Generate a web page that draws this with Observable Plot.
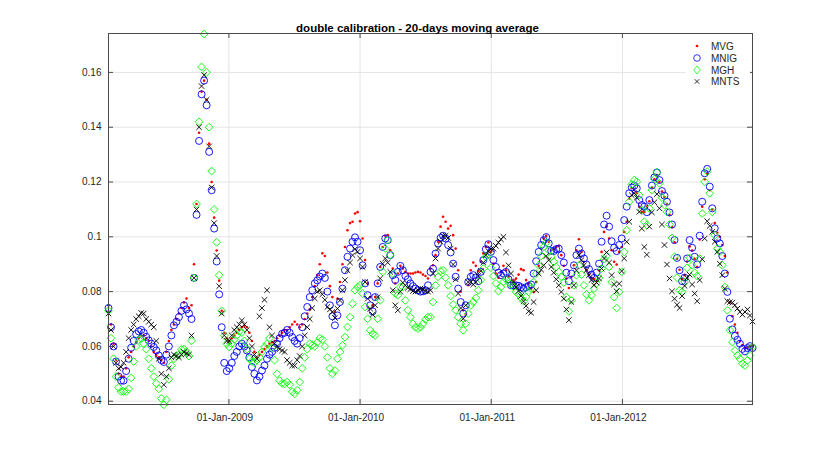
<!DOCTYPE html>
<html><head><meta charset="utf-8">
<script src="https://cdn.jsdelivr.net/npm/d3@7"></script>
<script src="https://cdn.jsdelivr.net/npm/@observablehq/plot@0.6"></script>
<style>
body{margin:0;background:#fff;font-family:"Liberation Sans",Arial,sans-serif;}
#wrap{position:relative;width:830px;height:454px;overflow:hidden;}
#legend{position:absolute;left:686px;top:38px;}
</style></head>
<body><div id="wrap"><div id="chart"></div><svg id="legend" width="64" height="52"></svg></div>
<script>
// one reading per week, starting 01-Feb-2008
const startDate = "2008-02-01";
const stepDays = 7;

const MVG = [
0.075,0.068,0.061,0.055,0.050,0.049,0.049,0.052,0.056,0.058,
0.060,0.0615,0.063,0.064,0.064,0.063,0.062,0.060,0.058,0.057,
0.056,0.055,0.054,0.058,0.062,0.066,0.068,0.070,0.072,0.074,
0.076,0.0775,0.074,0.075,0.090,0.112,0.138,0.153,0.157,0.150,
0.134,0.120,0.107,0.095,0.084,0.073,0.065,0.063,0.062,0.063,
0.064,0.065,0.066,0.067,0.0675,0.067,0.065,0.062,0.058,0.056,
0.057,0.058,0.059,0.060,0.061,0.0615,0.062,0.063,0.064,0.065,
0.066,0.066,0.067,0.068,0.069,0.068,0.067,0.068,0.070,0.072,
0.0735,0.078,0.082,0.086,0.090,0.094,0.093,0.087,0.082,0.078,
0.0726,0.0774,0.0835,0.090,0.0963,0.1024,0.105,0.1055,0.1085,0.109,
0.1057,0.0994,0.0915,0.083,0.078,0.075,0.078,0.083,0.089,0.0963,
0.1004,0.1006,0.0951,0.0884,0.083,0.0866,0.0894,0.0884,0.0872,0.0866,
0.0866,0.0866,0.087,0.0872,0.087,0.0862,0.0857,0.0848,0.0884,0.0896,
0.0933,0.0982,0.1037,0.1073,0.1055,0.103,0.104,0.1006,0.0957,0.0878,
0.080,0.0732,0.0716,0.0823,0.0878,0.0906,0.0894,0.0875,0.0909,0.0939,
0.0963,0.0979,0.0945,0.0902,0.0866,0.0851,0.0872,0.0894,0.0878,0.0854,
0.0835,0.0842,0.0848,0.0862,0.0882,0.0878,0.0842,0.083,0.0811,0.0799,
0.0835,0.0894,0.0957,0.0994,0.1004,0.0982,0.0951,0.0955,0.0963,0.0967,
0.0933,0.0894,0.0848,0.0813,0.0854,0.0896,0.0951,0.0991,0.0945,0.0909,
0.0878,0.0862,0.085,0.0845,0.0838,0.0878,0.0945,0.1018,0.1037,0.0994,
0.0951,0.0909,0.0899,0.0945,0.0963,0.1018,0.1055,0.114,0.1177,0.1171,
0.1159,0.111,0.1091,0.1091,0.111,0.113,0.118,0.121,0.1225,0.120,
0.1165,0.1145,0.112,0.108,0.1035,0.098,0.092,0.088,0.0845,0.086,
0.091,0.0965,0.095,0.092,0.089,0.099,0.111,0.121,0.123,0.117,
0.110,0.105,0.1015,0.100,0.097,0.093,0.087,0.076,0.071,0.068,
0.065,0.062,0.0605,0.0595,0.0595,0.060,0.060];

const MNIG = [
0.074,0.067,0.060,0.0545,0.049,0.0475,0.0475,0.051,0.0555,0.0595,
0.062,0.0645,0.0655,0.066,0.065,0.0635,0.0622,0.061,0.0598,0.0585,
0.0567,0.055,0.0543,0.057,0.060,0.064,0.0677,0.069,0.0707,0.073,
0.075,0.0735,0.072,0.070,0.085,0.108,0.135,0.152,0.157,0.148,
0.131,0.117,0.103,0.091,0.079,0.067,0.054,0.051,0.052,0.054,
0.0565,0.058,0.060,0.061,0.060,0.0585,0.056,0.0525,0.050,0.0476,
0.049,0.0512,0.053,0.0555,0.057,0.058,0.0595,0.061,0.063,0.0646,
0.065,0.066,0.065,0.0634,0.062,0.061,0.063,0.067,0.071,0.0744,
0.078,0.0805,0.083,0.0841,0.0855,0.0866,0.085,0.080,0.075,0.071,
0.0677,0.0713,0.0762,0.0811,0.0878,0.0927,0.0957,0.0982,0.0998,0.0982,
0.0951,0.0896,0.083,0.0787,0.075,0.0728,0.078,0.083,0.089,0.0963,
0.0994,0.0988,0.0933,0.086,0.0842,0.0872,0.0894,0.0878,0.0857,0.0845,
0.083,0.082,0.0811,0.0805,0.080,0.0801,0.0805,0.0823,0.0872,0.0884,
0.0939,0.0976,0.0996,0.1004,0.0994,0.097,0.0943,0.0902,0.0854,0.0811,
0.0762,0.072,0.075,0.0835,0.0854,0.086,0.0851,0.0838,0.0872,0.0915,
0.0955,0.0973,0.0945,0.0915,0.089,0.0869,0.086,0.0866,0.0872,0.0845,
0.0823,0.0823,0.0823,0.0821,0.0816,0.0811,0.0816,0.0821,0.0826,0.0866,
0.0911,0.0945,0.097,0.0988,0.0999,0.0976,0.0949,0.0948,0.0955,0.0957,
0.0933,0.0906,0.0869,0.0838,0.0866,0.0896,0.0933,0.0957,0.0939,0.0921,
0.0899,0.0882,0.0862,0.085,0.0869,0.0902,0.0982,0.1045,0.1077,0.1037,
0.0984,0.096,0.0948,0.097,0.0994,0.1061,0.111,0.1159,0.118,0.1187,
0.1177,0.1134,0.1116,0.111,0.109,0.1134,0.1187,0.1217,0.1235,0.1207,
0.1167,0.115,0.1128,0.1089,0.1045,0.0988,0.0923,0.0878,0.0838,0.0851,
0.0921,0.0988,0.096,0.0927,0.0899,0.1004,0.1128,0.1232,0.1248,0.1183,
0.1104,0.1031,0.0994,0.0976,0.093,0.0866,0.0799,0.0701,0.0662,0.0638,
0.0624,0.061,0.0591,0.0582,0.0594,0.0601,0.0594];

const MGH = [
0.073,0.063,0.0555,0.049,0.045,0.0435,0.0435,0.0435,0.0445,0.0485,
0.0545,0.060,0.0625,0.0628,0.061,0.059,0.0555,0.052,0.049,0.0465,
0.0445,0.041,0.0387,0.0405,0.048,0.053,0.0555,0.0565,0.057,0.059,
0.059,0.058,0.0565,0.062,0.085,0.112,0.142,0.162,0.174,0.160,
0.140,0.124,0.110,0.098,0.086,0.073,0.064,0.061,0.0598,0.061,
0.0625,0.064,0.0655,0.065,0.062,0.059,0.0555,0.0545,0.054,0.055,
0.056,0.058,0.0598,0.061,0.063,0.0595,0.055,0.050,0.0475,0.0465,
0.0463,0.047,0.046,0.0435,0.0427,0.044,0.047,0.052,0.056,0.059,
0.061,0.0605,0.060,0.0615,0.063,0.0625,0.060,0.056,0.052,0.050,
0.0512,0.0555,0.058,0.0604,0.0634,0.0671,0.0707,0.0756,0.0805,0.0817,
0.0823,0.0793,0.0744,0.0701,0.0659,0.0646,0.064,0.0701,0.0768,0.0872,
0.0957,0.0988,0.0933,0.0866,0.0793,0.0787,0.0817,0.0817,0.0768,0.0732,
0.0707,0.0683,0.067,0.0665,0.067,0.0683,0.0698,0.0707,0.0707,0.0762,
0.0823,0.0854,0.0875,0.0878,0.0851,0.0823,0.0784,0.0753,0.0732,0.0707,
0.0683,0.0659,0.0683,0.072,0.075,0.0762,0.0777,0.0805,0.0842,0.0884,
0.0927,0.0933,0.0887,0.0857,0.083,0.0802,0.0817,0.0835,0.0845,0.0835,
0.0827,0.0817,0.0799,0.079,0.0777,0.0765,0.078,0.0799,0.0811,0.0835,
0.0866,0.0896,0.093,0.0963,0.0979,0.0951,0.0927,0.0909,0.089,0.0872,
0.0854,0.0833,0.078,0.0728,0.0768,0.0823,0.086,0.0896,0.0862,0.0823,
0.079,0.0768,0.0787,0.0811,0.083,0.085,0.0884,0.0918,0.093,0.089,
0.0835,0.078,0.074,0.0799,0.0872,0.0945,0.1024,0.1128,0.1191,0.1207,
0.1201,0.1152,0.1098,0.1055,0.1043,0.1104,0.1171,0.1211,0.1235,0.1195,
0.1143,0.1116,0.1091,0.1045,0.0996,0.0927,0.0851,0.0805,0.0799,0.0835,
0.0887,0.0923,0.0896,0.0869,0.0857,0.0921,0.1085,0.1201,0.1238,0.1159,
0.1091,0.1006,0.0957,0.0945,0.0896,0.0817,0.0732,0.0659,0.0616,0.0585,
0.0567,0.0555,0.0537,0.053,0.0549,0.0567,0.0598];

const MNTS = [
0.072,0.066,0.060,0.054,0.052,0.0525,0.054,0.058,0.063,0.066,
0.068,0.070,0.071,0.0722,0.072,0.070,0.069,0.068,0.067,0.062,
0.0555,0.050,0.046,0.049,0.052,0.056,0.057,0.0565,0.056,0.057,
0.058,0.0575,0.057,0.064,0.085,0.110,0.140,0.155,0.159,0.150,
0.133,0.118,0.105,0.093,0.082,0.072,0.064,0.062,0.062,0.064,
0.066,0.067,0.068,0.0695,0.068,0.066,0.063,0.060,0.057,0.0555,
0.071,0.074,0.077,0.0805,0.067,0.064,0.061,0.060,0.059,0.0585,
0.058,0.055,0.054,0.053,0.053,0.055,0.0565,0.060,0.064,0.067,
0.070,0.074,0.0775,0.080,0.0805,0.079,0.077,0.0744,0.0735,0.0726,
0.0704,0.0738,0.0768,0.0805,0.0842,0.0878,0.0906,0.0933,0.0955,0.0945,
0.0921,0.089,0.0835,0.0774,0.0738,0.0716,0.075,0.078,0.0848,0.0902,
0.0921,0.0906,0.0872,0.0805,0.075,0.0732,0.080,0.0833,0.0823,0.0814,
0.0809,0.0802,0.080,0.0805,0.0811,0.0809,0.0802,0.080,0.0805,0.0866,
0.0921,0.0957,0.0982,0.1004,0.1004,0.0996,0.0957,0.0899,0.0845,0.0793,
0.074,0.0701,0.075,0.0835,0.0835,0.0826,0.0835,0.0857,0.0875,0.0906,
0.0933,0.0948,0.0955,0.0957,0.0967,0.0979,0.0991,0.100,0.0943,0.0896,
0.0866,0.0835,0.0817,0.0802,0.0784,0.0765,0.0748,0.0728,0.0723,0.0762,
0.0805,0.0866,0.088,0.0896,0.093,0.0915,0.089,0.0869,0.0845,0.0823,
0.0799,0.0774,0.0735,0.0696,0.0762,0.0823,0.0878,0.0933,0.0915,0.0896,
0.0878,0.086,0.0842,0.0823,0.0833,0.0848,0.0884,0.0921,0.0943,0.0906,
0.086,0.0826,0.0801,0.0829,0.0875,0.0921,0.0982,0.1055,0.1152,0.1159,
0.1143,0.1091,0.103,0.0963,0.0935,0.1037,0.1089,0.1126,0.1156,0.1104,
0.1045,0.097,0.0899,0.0848,0.0801,0.0774,0.0752,0.074,0.0784,0.0821,
0.085,0.0862,0.0826,0.0793,0.0765,0.0842,0.0918,0.0994,0.1057,0.104,
0.1018,0.0982,0.0945,0.0902,0.086,0.0811,0.0765,0.0762,0.076,0.075,
0.0738,0.0726,0.0716,0.0726,0.0735,0.0713,0.0691];

const seriesNames = ["MVG", "MNIG", "MGH", "MNTS"];
const xTickDates = ["2009-01-01", "2010-01-01", "2011-01-01", "2012-01-01"];
const xTickLabels = ["01-Jan-2009", "01-Jan-2010", "01-Jan-2011", "01-Jan-2012"];
const yTicks = [0.04, 0.06, 0.08, 0.10, 0.12, 0.14, 0.16];
const yTickLabels = ["0.04", "0.06", "0.08", "0.1", "0.12", "0.14", "0.16"];
const yDomain = [0.0388, 0.1742];
const titleText = "double calibration - 20-days moving average";

const t0 = new Date(startDate + "T00:00:00Z").getTime();
const dates = MVG.map((_, i) => new Date(t0 + i * stepDays * 864e5));
const toRows = vals => vals.map((v, i) => ({date: dates[i], value: v}));
const xTicks = xTickDates.map(s => new Date(s + "T00:00:00Z"));

const W = 830, H = 454, mL = 108, mR = 78, mT = 33, mB = 50;
const pw = W - mL - mR, ph = H - mT - mB;
const axisColor = "#4a4a4a", gridColor = "#e4e4e4", textColor = "#262626";

const chart = Plot.plot({
  width: W, height: H,
  marginLeft: mL, marginRight: mR, marginTop: mT, marginBottom: mB,
  style: {fontFamily: "'Liberation Sans', Arial, sans-serif", fontSize: "10px", background: "#fff", color: textColor},
  x: {type: "utc", domain: [dates[0], dates[dates.length - 1]], label: null},
  y: {domain: yDomain, label: null},
  marks: [
    Plot.gridX(xTicks, {stroke: gridColor, strokeOpacity: 1}),
    Plot.gridY(yTicks, {stroke: gridColor, strokeOpacity: 1}),
    Plot.dot(toRows(MVG), {x: "date", y: "value", r: 1.3, fill: "#ff0000", stroke: "none"}),
    Plot.dot(toRows(MNIG), {x: "date", y: "value", r: 3.5, fill: "none", stroke: "#0000ff", strokeWidth: 0.9}),
    Plot.dot(toRows(MGH), {x: "date", y: "value", symbol: "diamond2", r: 3.5, fill: "none", stroke: "#00ff00", strokeWidth: 0.9}),
    Plot.dot(toRows(MNTS), {x: "date", y: "value", symbol: "times", r: 2.6, fill: "none", stroke: "#000000", strokeWidth: 0.9}),
    Plot.frame({stroke: axisColor, strokeWidth: 1}),
    Plot.tickY(yTicks, {y: d => d, insetRight: pw - 5, stroke: axisColor}),
    Plot.tickY(yTicks, {y: d => d, insetLeft: pw - 5, stroke: axisColor}),
    Plot.tickX(xTicks, {x: d => d, insetTop: ph - 5, stroke: axisColor}),
    Plot.tickX(xTicks, {x: d => d, insetBottom: ph - 5, stroke: axisColor}),
    Plot.axisY(yTicks, {tickSize: 0, tickPadding: 7, fontSize: 10, fill: textColor, label: null,
      tickFormat: d => yTickLabels[yTicks.indexOf(d)]}),
    Plot.axisX(xTicks, {tickSize: 0, tickPadding: 9, fontSize: 10, fill: textColor, dx: -4, label: null,
      tickFormat: d => xTickLabels[xTicks.findIndex(t => +t === +d)]}),
    Plot.text([titleText], {frameAnchor: "top", dy: -10, dx: -13, fontSize: 11.5, fontWeight: "bold", fill: "#000"})
  ]
});
document.getElementById("chart").appendChild(chart);

// legend
const lg = d3.select("#legend");
lg.append("rect").attr("width", 64).attr("height", 52).attr("fill", "#fff");
const rowsY = [8, 20, 32, 43.5];
const mx = 11, tx = 25;
seriesNames.forEach((name, i) => {
  const y = rowsY[i];
  if (name === "MVG") lg.append("circle").attr("cx", mx).attr("cy", y).attr("r", 1.3).attr("fill", "#ff0000");
  if (name === "MNIG") lg.append("circle").attr("cx", mx).attr("cy", y).attr("r", 3.3).attr("fill", "none").attr("stroke", "#0000ff").attr("stroke-width", 0.8);
  if (name === "MGH") lg.append("path").attr("d", `M${mx},${y-4}L${mx+3.3},${y}L${mx},${y+4}L${mx-3.3},${y}Z`).attr("fill", "none").attr("stroke", "#00ff00").attr("stroke-width", 0.8);
  if (name === "MNTS") lg.append("path").attr("d", `M${mx-2.3},${y-2.3}L${mx+2.3},${y+2.3}M${mx-2.3},${y+2.3}L${mx+2.3},${y-2.3}`).attr("stroke", "#000").attr("stroke-width", 0.8);
  lg.append("text").attr("x", tx).attr("y", y).attr("dy", "0.35em").attr("font-size", 10)
    .attr("font-family", "'Liberation Sans', Arial, sans-serif").attr("fill", textColor).text(name);
});
</script>
</body></html>
